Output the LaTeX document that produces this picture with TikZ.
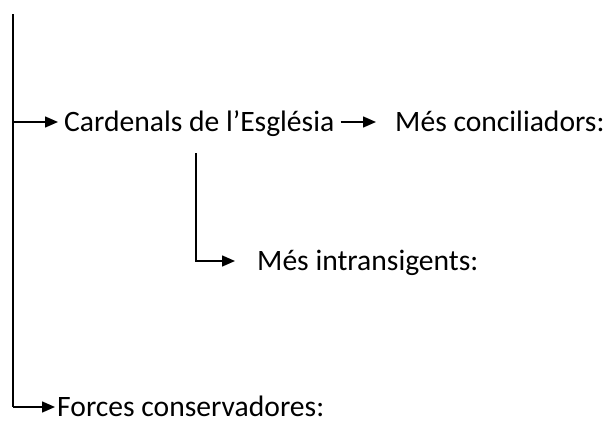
\documentclass[tikz,border=0pt]{standalone}
\usepackage{fontspec}
\setmainfont{Carlito}
\usetikzlibrary{arrows.meta}
\begin{document}
\begin{tikzpicture}[x=1pt,y=-1pt,
 lbl/.style={anchor=west,inner sep=0pt,text height=19pt,text depth=0pt,font=\fontsize{29.6}{35}\selectfont},
 conn/.style={line width=1.5pt,line cap=butt},
 arr/.style={conn,-{Triangle[length=13pt,width=11pt]}}]
\useasboundingbox (0,0) rectangle (614,423);
\coordinate (top) at (13,14);
\coordinate (bot) at (13,407);
\coordinate (sub) at (196,153);
\node[lbl] (card) at (64,122) {Cardenals de l’Església};
\node[lbl] (conc) at (395,122) {Més conciliadors:};
\node[lbl] (intr) at (257,261) {Més intransigents:};
\node[lbl] (forc) at (57,407) {Forces conservadores:};
\draw[conn] (top) -- (bot);
\draw[arr,shorten >=6pt] (top |- card.west) -- (card.west);
\draw[arr,shorten <=6pt,shorten >=19pt] (card.east) -- (conc.west);
\draw[arr,shorten >=22pt] (sub) |- (intr.west);
\draw[arr,shorten >=2pt] (bot) -- (forc.west);
\end{tikzpicture}
\end{document}
